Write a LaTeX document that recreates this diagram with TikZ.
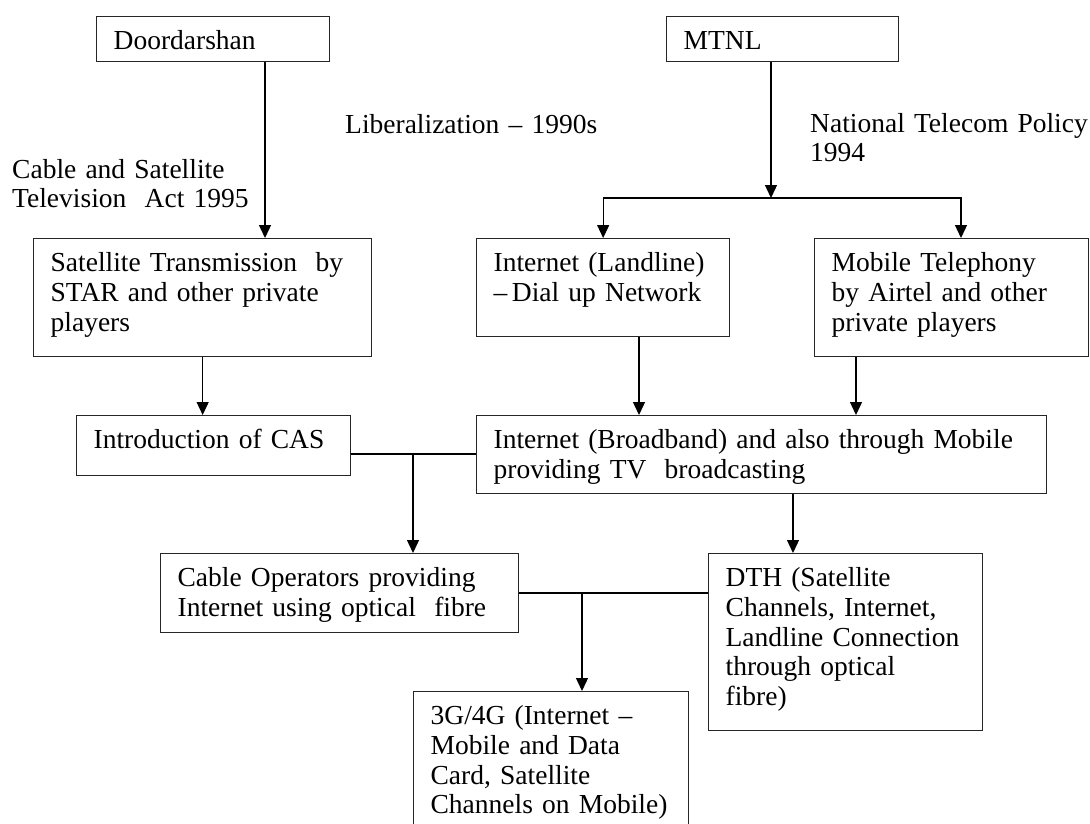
\documentclass[tikz,border=0pt]{standalone}
\usepackage{fontspec}
\setmainfont{Liberation Serif}
\usetikzlibrary{arrows.meta, calc}
\tikzset{
	box/.style={draw=black!85, line width=1.3pt, anchor=north west, align=left,
		inner xsep=17pt, inner ysep=11pt, text height=22pt},
	blk/.style 2 args={box, text width=#1, text depth=#2},
	lbl/.style={anchor=base west, inner sep=0pt, align=left, text width=#1},
	lbl/.default=300pt,
	arr/.style={line width=1.3pt, -{Triangle[length=13pt,width=12pt]}},
	link/.style={line width=1.3pt},
}

\begin{document}
\begin{tikzpicture}[x=1pt, y=-1pt, every node/.style={font=\fontsize{27.5}{29.7}\selectfont}]
\useasboundingbox (0,0) rectangle (1090,823);

% boxes, top row
\node[blk={199pt}{1pt}] (dd) at (96,16) {Doordarshan};
\node[blk={198pt}{1pt}] (mtnl) at (666,16) {MTNL};

% free labels
\node[lbl] (lib) at (345,133) {Liberalization – 1990s};
\node[lbl] (act) at (12,178) {Cable and Satellite\\Television\ \ Act 1995};
\node[lbl] (ntp) at (810,132) {National Telecom\,\,Policy\\1994};

% second row
\node[blk={304pt}{74pt}] (sat) at (33,238) {Satellite Transmission\ \ by\\STAR and other private\\players};
\node[blk={219pt}{54pt}] (land) at (476,238) {Internet (Landline)\\–\,Dial up Network};
\node[blk={240pt}{74pt}] (mob) at (814,238) {Mobile Telephony\\by Airtel and other\\private players};

% third row
\node[blk={240pt}{16pt}] (cas) at (76,415) {Introduction of CAS};
\node[blk={536pt}{34pt}] (bb) at (476,415) {Internet (Broadband) and also through Mobile\\providing TV\ \ broadcasting};

% lower rows
\node[blk={324pt}{35pt}] (cab) at (160,553) {Cable Operators providing\\Internet using optical\ \ fibre};
\node[blk={240pt}{133pt}] (dth) at (708,553) {DTH (Satellite\\Channels, Internet,\\Landline Connection\\through optical\\fibre)};
\node[blk={241pt}{96pt}] (g34) at (413,691) {3G/4G (Internet –\\Mobile and Data\\Card, Satellite\\Channels on Mobile)};

% connectors
\coordinate (split) at (771,198);
\coordinate (j1) at (413,454);
\coordinate (j2) at (582,593);

\draw[arr] (265,0 |- dd.south) -- (265,0 |- sat.north);
\draw[arr] (split |- mtnl.south) -- (split);
\draw[arr] (split) -| (land.north);
\draw[arr] (split) -| (961,0 |- mob.north);

\draw[arr] (sat.south) -- (sat.south |- cas.north);
\draw[arr] (639,0 |- land.south) -- (639,0 |- bb.north);
\draw[arr] (856,0 |- mob.south) -- (856,0 |- bb.north);

\draw[link] (j1 -| cas.east) -- (j1 -| bb.west);
\draw[arr] (j1) -- (j1 |- cab.north);
\draw[arr] (793,0 |- bb.south) -- (793,0 |- dth.north);

\draw[link] (j2 -| cab.east) -- (j2 -| dth.west);
\draw[arr] (j2) -- (j2 |- g34.north);
\end{tikzpicture}
\end{document}
